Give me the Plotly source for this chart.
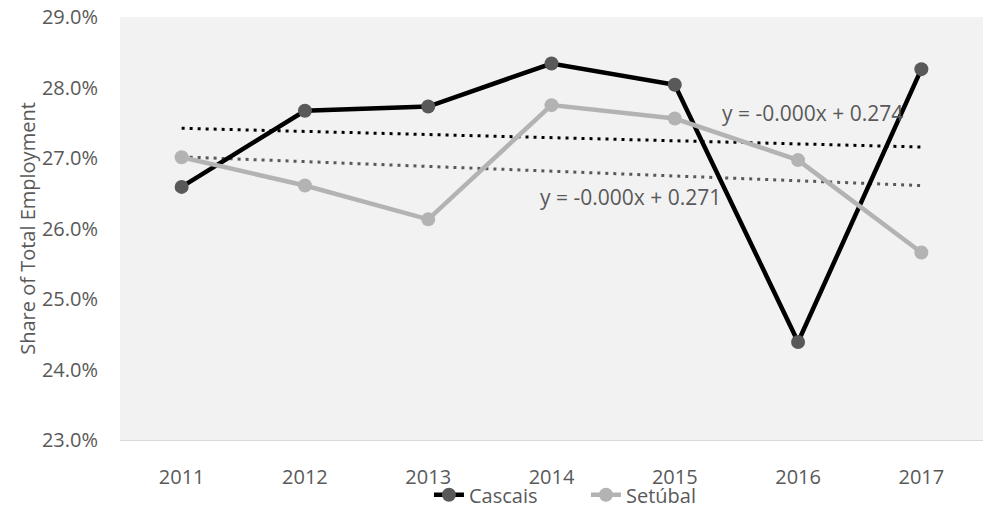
import numpy as np
import plotly.graph_objects as go

years = ["2011", "2012", "2013", "2014", "2015", "2016", "2017"]
cascais = [26.59, 27.67, 27.73, 28.34, 28.04, 24.39, 28.26]
setubal = [27.01, 26.61, 26.13, 27.75, 27.56, 26.97, 25.66]
eq_cascais = "y = -0.000x + 0.274"
eq_setubal = "y = -0.000x + 0.271"
y_ticks = [23, 24, 25, 26, 27, 28, 29]

FONT = "Open Sans"
TXT = "#595959"
FS = 20


def trend(vals):
    x = np.arange(1, len(vals) + 1)
    m, b = np.polyfit(x, np.array(vals), 1)
    return list(m * x + b)


fig = go.Figure()

# linear trendlines
fig.add_trace(go.Scatter(
    x=years, y=trend(cascais), mode="lines", showlegend=False,
    line=dict(color="#000000", width=3, dash="3px,5px"), hoverinfo="skip"))
fig.add_trace(go.Scatter(
    x=years, y=trend(setubal), mode="lines", showlegend=False,
    line=dict(color="#595959", width=3, dash="3px,5px"), hoverinfo="skip"))

fig.add_trace(go.Scatter(
    x=years, y=cascais, mode="lines+markers", name="Cascais",
    line=dict(color="#000000", width=4.5),
    marker=dict(color="#595959", size=14)))
fig.add_trace(go.Scatter(
    x=years, y=setubal, mode="lines+markers", name="Setúbal",
    line=dict(color="#b3b3b3", width=4.5),
    marker=dict(color="#b3b3b3", size=14)))

fig.add_annotation(x=5.12, y=27.64, xref="x", yref="y", text=eq_cascais,
                   showarrow=False, font=dict(family=FONT, size=21, color=TXT))
fig.add_annotation(x=3.64, y=26.44, xref="x", yref="y", text=eq_setubal,
                   showarrow=False, font=dict(family=FONT, size=21, color=TXT))

fig.update_layout(
    width=997, height=508,
    margin=dict(l=120, r=14, t=17, b=68, autoexpand=False),
    paper_bgcolor="#ffffff", plot_bgcolor="#f2f2f2",
    font=dict(family=FONT, size=FS, color=TXT),
    legend=dict(orientation="h", x=0.358, xanchor="left",
                yref="container", y=0.026, yanchor="middle",
                font=dict(size=FS, color=TXT),
                bgcolor="rgba(0,0,0,0)", itemwidth=30,
                entrywidth=112, tracegroupgap=0),
    xaxis=dict(type="category", range=[-0.5, 6.5], showgrid=False,
               showline=True, linecolor="#d9d9d9", linewidth=1,
               ticks="", tickfont=dict(size=FS, color=TXT), zeroline=False,
               ticklabelstandoff=19, automargin=False),
    yaxis=dict(range=[23, 29], tickvals=y_ticks,
               ticktext=[f"{v:.1f}%" for v in y_ticks],
               showgrid=False, zeroline=False, ticks="",
               tickfont=dict(size=FS, color=TXT), automargin=False,
               ticklabelstandoff=21,
               title=dict(text="Share of Total Employment",
                          font=dict(size=FS, color=TXT), standoff=0)),
)

fig.write_html("out.html")
